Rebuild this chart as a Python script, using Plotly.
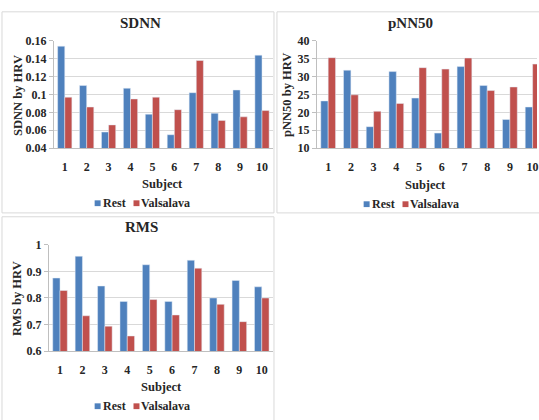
import plotly.graph_objects as go

W, H = 539, 420

subjects = ["1", "2", "3", "4", "5", "6", "7", "8", "9", "10"]
series_names = ["Rest", "Valsalava"]

sdnn_rest = [0.154, 0.110, 0.058, 0.107, 0.078, 0.055, 0.102, 0.079, 0.105, 0.144]
sdnn_vals = [0.097, 0.086, 0.066, 0.095, 0.097, 0.083, 0.138, 0.071, 0.075, 0.082]

pnn50_rest = [23.2, 31.8, 16.0, 31.4, 24.0, 14.2, 32.8, 27.5, 18.0, 21.5]
pnn50_vals = [35.3, 24.9, 20.3, 22.5, 32.5, 32.1, 35.2, 26.1, 27.1, 33.5]

rms_rest = [0.875, 0.957, 0.845, 0.787, 0.925, 0.787, 0.942, 0.800, 0.866, 0.842]
rms_vals = [0.828, 0.733, 0.694, 0.657, 0.794, 0.736, 0.912, 0.776, 0.711, 0.800]

BLUE = "#4F81BD"
RED = "#C0504D"
FONT = "Liberation Serif"
TXT = "#262626"


def px(x):
    return x / W


def py(y):
    return 1 - y / H


fig = go.Figure()

panels = [
    dict(ax="", rest=sdnn_rest, vals=sdnn_vals),
    dict(ax="2", rest=pnn50_rest, vals=pnn50_vals),
    dict(ax="3", rest=rms_rest, vals=rms_vals),
]

for p in panels:
    fig.add_trace(go.Bar(x=subjects, y=p["rest"], name=series_names[0], marker_color=BLUE,
                         xaxis="x" + p["ax"], yaxis="y" + p["ax"], showlegend=False))
    fig.add_trace(go.Bar(x=subjects, y=p["vals"], name=series_names[1], marker_color=RED,
                         xaxis="x" + p["ax"], yaxis="y" + p["ax"], showlegend=False))

tickfont = dict(family=FONT, size=12, color=TXT, weight="bold")

xcommon = dict(type="category", showline=True, linecolor="#BFBFBF", linewidth=1,
               tickfont=tickfont, ticklabelstandoff=7, showgrid=False, fixedrange=True)
ycommon = dict(showline=True, linecolor="#BFBFBF", linewidth=1, ticks="outside",
               ticklen=4, tickcolor="#BFBFBF", gridcolor="#D9D9D9", gridwidth=1,
               tickfont=tickfont, zeroline=False, fixedrange=True)

fig.update_layout(
    width=W, height=H,
    margin=dict(l=0, r=0, t=0, b=0),
    paper_bgcolor="white", plot_bgcolor="white",
    barmode="group", bargap=0.35, bargroupgap=0,
    showlegend=False,
    xaxis=dict(xcommon, domain=[px(54), px(274)], anchor="y", range=[-0.5, 9.5]),
    yaxis=dict(ycommon, domain=[py(146), py(35)], anchor="x", range=[0.04, 0.16],
               tickvals=[0.04, 0.06, 0.08, 0.1, 0.12, 0.14, 0.16],
               ticktext=["0.04", "0.06", "0.08", "0.1", "0.12", "0.14", "0.16"]),
    xaxis2=dict(xcommon, domain=[px(318), 1], anchor="y2",
                range=[-0.5, -0.5 + (539 - 318) / 22.8]),
    yaxis2=dict(ycommon, domain=[py(146), py(35)], anchor="x2", range=[10, 40],
                tickvals=[10, 15, 20, 25, 30, 35, 40]),
    xaxis3=dict(xcommon, domain=[px(49), px(274)], anchor="y3", range=[-0.5, 9.5]),
    yaxis3=dict(ycommon, domain=[py(356), py(246)], anchor="x3", range=[0.6, 1.0],
                tickvals=[0.6, 0.7, 0.8, 0.9, 1.0],
                ticktext=["0.6", "0.7", "0.8", "0.9", "1"]),
)

annotations = []
shapes = []


def ann(text, x, y, size, angle=0, xanchor="center"):
    annotations.append(dict(text=text, x=px(x), y=py(y), xref="paper", yref="paper",
                            showarrow=False, textangle=angle, xanchor=xanchor,
                            yanchor="middle",
                            font=dict(family=FONT, size=size, color=TXT, weight="bold")))


ann("SDNN", 141, 17, 15)
ann("pNN50", 412, 17, 15)
ann("RMS", 142, 228, 15)
ann("Subject", 163, 183, 12.5)
ann("Subject", 427, 184, 12.5)
ann("Subject", 162, 393, 12.5)
ann("SDNN by HRV", 18, 91, 12.5, -90)
ann("pNN50 by HRV", 288, 91, 12.5, -90)
ann("RMS by HRV", 17, 301, 12.5, -90)

# legends (key squares + labels) for each panel
for (xr, xv, yl) in [(98, 137, 203), (368, 407, 204), (98, 137, 413)]:
    for (xc, col, name) in [(xr, BLUE, series_names[0]), (xv, RED, series_names[1])]:
        shapes.append(dict(type="rect", xref="paper", yref="paper",
                           x0=px(xc - 3), x1=px(xc + 3), y0=py(yl + 3), y1=py(yl - 3),
                           line=dict(width=0), fillcolor=col))
        ann(name, xc + 3, yl, 12, xanchor="left")

for (x0, y0, x1, y1) in [(2, 5, 275, 213), (278, 5, 545, 213), (2, 217, 275, 430)]:
    shapes.append(dict(type="rect", xref="paper", yref="paper",
                       x0=px(x0), x1=px(x1), y0=py(y1), y1=py(y0),
                       line=dict(color="#D9D9D9", width=1), fillcolor="rgba(0,0,0,0)",
                       layer="below"))

fig.update_layout(annotations=annotations, shapes=shapes)

fig.write_html(
    "out.html",
    config={"displayModeBar": False},
    post_script="document.body.style.margin='0';document.body.style.overflow='hidden';",
)
